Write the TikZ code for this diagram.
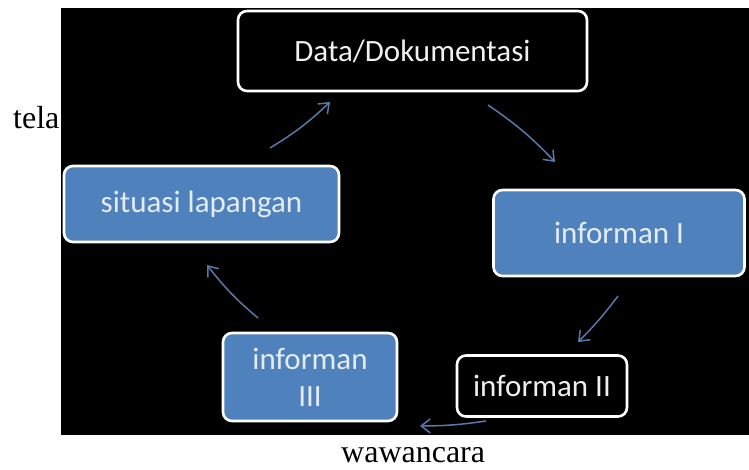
\documentclass[tikz,border=0pt]{standalone}
\usepackage{fontspec}
\setmainfont{Liberation Serif}
\newfontfamily\boxfont{Carlito}
\usetikzlibrary{arrows.meta}
\definecolor{boxblue}{HTML}{4F81BD}
\definecolor{arrowblue}{HTML}{5A78A8}
\definecolor{bluetext}{HTML}{E4ECF6}
\definecolor{blacktext}{HTML}{F0F0F0}
\tikzset{
  box/.style={draw=white, line width=2.6pt, rounded corners=9pt, font=\boxfont\fontsize{31}{37}\selectfont, align=center, inner sep=0pt},
  bluebox/.style={box, fill=boxblue, text=bluetext},
  blackbox/.style={box, fill=black, text=blacktext},
  conn/.style={draw=arrowblue, line width=1.5pt, -{Straight Barb[length=9pt,width=14pt,line width=1.5pt]}},
  plaintext/.style={font=\fontsize{32}{34}\selectfont, text=black, inner sep=0pt, text height=0.7em, text depth=0pt}
}
\begin{document}
\begin{tikzpicture}[x=1pt,y=-1pt]
\useasboundingbox (0,0) rectangle (749,470);
\fill[white] (0,0) rectangle (749,470);
\node[plaintext, anchor=base west] (tela) at (13,129) {tela};
\fill[black] (61,8) rectangle (749,435);
\node[blackbox, minimum width=349pt, minimum height=80pt] (data) at (412.5,51) {Data/Dokumentasi};
\node[bluebox, minimum width=275pt, minimum height=76pt] (sit) at (201.5,204) {situasi lapangan};
\node[bluebox, minimum width=251pt, minimum height=86pt] (inf1) at (619,233) {informan I};
\node[blackbox, minimum width=170pt, minimum height=61pt] (inf2) at (542,386) {informan II};
\node[bluebox, minimum width=174pt, minimum height=88pt] (inf3) at (310,377) {informan\\ III};
\coordinate (a1s) at (270,148); \coordinate (a1e) at (330,102);
\coordinate (a2s) at (488,105); \coordinate (a2e) at (555,162);
\coordinate (a3s) at (618,296); \coordinate (a3e) at (578,342);
\coordinate (a4s) at (486,421); \coordinate (a4e) at (420,426);
\coordinate (a5s) at (258,318); \coordinate (a5e) at (207,265);
\draw[conn] (a1s) to[bend right=6] (a1e);
\draw[conn] (a2s) to[bend left=6] (a2e);
\draw[conn] (a3s) to[bend left=4] (a3e);
\draw[conn] (a4s) to[bend left=4] (a4e);
\draw[conn] (a5s) to[bend left=6] (a5e);
\node[plaintext, anchor=base west] (waw) at (341,462) {wawancara};
\end{tikzpicture}
\end{document}
